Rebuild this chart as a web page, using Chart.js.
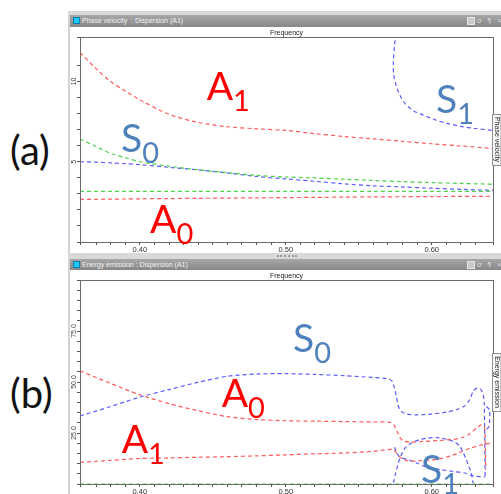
<!DOCTYPE html>
<html>
<head>
<meta charset="utf-8">
<script src="https://cdn.jsdelivr.net/npm/chart.js@4.4.1/dist/chart.umd.min.js"></script>
<style>
  html, body { margin: 0; padding: 0; background: #fff; }
  #page { position: relative; width: 501px; height: 494px; overflow: hidden; background: #fff;
          font-family: "Liberation Sans", Arial, sans-serif; }
  .tag { position: absolute; left: 10px; font-family: Lato, "Open Sans", sans-serif; font-size: 40px;
         line-height: 40px; height: 40px; color: #111; white-space: nowrap; }
  .edge { position: absolute; left: 68px; top: 11px; width: 2px; height: 483px; background: #d2d2d2; }
  .strip { position: absolute; left: 68px; width: 433px; background: #d9d9d9; }
  .bar { position: absolute; left: 70px; width: 431px; background: linear-gradient(#a7a7a7, #878787);
         color: #f2f2f2; font-size: 7px; white-space: nowrap; }
  .bar .ico { position: absolute; left: 3px; width: 5px; height: 5px; background: #1ec8f5;
              border: 1px solid #0d7fae; }
  .bar .ttl { position: absolute; left: 12px; }
  .bar .box { position: absolute; left: 397px; width: 6px; height: 6px; background: #c9c9c9;
              border: 1px solid #e6e6e6; }
  .bar .btns { position: absolute; left: 407px; color: #dcdcdc; font-size: 7px; letter-spacing: 2px; }
  .grip { position: absolute; left: 277px; top: 255px; width: 20px; height: 0;
          border-top: 2px dotted #9c9c9c; }
  canvas { position: absolute; }
</style>
</head>
<body>
<div id="page">
  <div class="tag" style="top:130px;">(a)</div>
  <div class="tag" style="top:373px;">(b)</div>

  <div class="edge"></div>

  <div class="strip" style="top:11px; height:4px;"></div>
  <div class="bar" style="top:15px; height:12px; line-height:12px;">
    <div class="ico" style="top:2px;"></div>
    <div class="ttl">Phase velocity&nbsp; : Dispersion (A1)</div>
    <div class="box" style="top:2px;"></div>
    <div class="btns">ơ ¶ ×</div>
  </div>
  <canvas id="pv" width="431" height="226" style="left:70px; top:27px;"></canvas>

  <div class="strip" style="top:253px; height:6px;"></div>
  <div class="grip"></div>
  <div class="bar" style="top:259px; height:11px; line-height:11px;">
    <div class="ico" style="top:2px;"></div>
    <div class="ttl">Energy emission : Dispersion (A1)</div>
    <div class="box" style="top:2px;"></div>
    <div class="btns">ơ ¶ ×</div>
  </div>
  <canvas id="ee" width="431" height="224" style="left:70px; top:270px;"></canvas>
</div>

<script>
// ---- shared axis ----
const freqMin = 0.359;
const freqMax = 0.642;
const freqTickLabels = ['0.40', '0.50', '0.60'];

// ---- (a) phase velocity ----
const pvTickLabels = ['5', '10'];
const pvFreq = [0.359, 0.37, 0.38, 0.39, 0.40, 0.42, 0.44, 0.46, 0.48, 0.50, 0.52, 0.54, 0.56, 0.58, 0.60, 0.62, 0.642];
const pvA1   = [11.8, 10.8, 10.0, 9.4, 8.86, 7.95, 7.45, 7.18, 7.05, 6.95, 6.75, 6.57, 6.42, 6.27, 6.12, 5.98, 5.83];
const pvS0   = [5.0, 4.97, 4.93, 4.88, 4.82, 4.65, 4.49, 4.3, 4.08, 3.93, 3.78, 3.62, 3.5, 3.43, 3.35, 3.28, 3.22];
const pvAux  = [6.42, 5.95, 5.52, 5.25, 5.0, 4.72, 4.5, 4.32, 4.15, 4.05, 3.99, 3.91, 3.83, 3.76, 3.7, 3.65, 3.6];
const pvSH0  = [3.15, 3.15, 3.15, 3.15, 3.15, 3.15, 3.15, 3.15, 3.15, 3.15, 3.15, 3.15, 3.15, 3.15, 3.15, 3.15, 3.15];
const pvA0   = [2.65, 2.66, 2.67, 2.68, 2.69, 2.705, 2.72, 2.735, 2.75, 2.765, 2.78, 2.795, 2.81, 2.82, 2.83, 2.84, 2.85];
const pvS1Freq = [0.5753, 0.5745, 0.5737, 0.5740, 0.5758, 0.5790, 0.5826, 0.588, 0.594, 0.602, 0.610, 0.620, 0.630, 0.642];
const pvS1     = [13.0, 12.2, 11.2, 10.4, 9.69, 9.0, 8.54, 8.15, 7.92, 7.62, 7.4, 7.2, 7.07, 6.95];

// ---- (b) energy emission ----
const eeTickLabels = ['25.0', '50.0', '75.0'];
const eeFreq = [0.359, 0.37, 0.38, 0.39, 0.40, 0.42, 0.44, 0.46, 0.48, 0.50, 0.52, 0.54, 0.56];
const eeS0   = [33.4, 35.7, 38.0, 40.3, 42.6, 46.3, 49.9, 52.8, 53.9, 54.1, 53.7, 53.1, 52.2];
const eeS0TailFreq = [0.570, 0.573, 0.5745, 0.5758, 0.5770, 0.5790, 0.5830, 0.590, 0.600, 0.610, 0.6175, 0.6226, 0.6260, 0.6285, 0.6310, 0.6335, 0.6352, 0.6360, 0.6363, 0.6366];
const eeS0Tail     = [51.6, 50.3, 46.8, 43.0, 38.5, 35.6, 34.3, 33.9, 34.3, 35.2, 36.6, 38.3, 41.3, 45.6, 47.0, 46.5, 44.0, 39.6, 25.0, 3.8];
const eeA0   = [55.5, 52.2, 49.3, 46.4, 43.7, 39.4, 35.9, 33.0, 31.6, 31.0, 30.8, 30.6, 30.4];
const eeA0TailFreq = [0.572, 0.5745, 0.5765, 0.5785, 0.581, 0.586, 0.595, 0.605, 0.615, 0.621, 0.626, 0.6306, 0.634, 0.636, 0.6366, 0.6368, 0.6370];
const eeA0Tail     = [30.2, 28.5, 25.5, 22.5, 21.0, 20.5, 20.9, 21.3, 21.9, 22.8, 24.5, 27.4, 29.0, 28.0, 24.0, 16.0, 7.0];
const eeA1   = [10.6, 11.1, 11.6, 12.1, 12.5, 12.8, 13.1, 13.4, 13.8, 14.3, 14.8, 15.2, 16.0];
const eeA1TailFreq = [0.5735, 0.5760, 0.5790, 0.5830, 0.590, 0.598, 0.606, 0.613, 0.6192, 0.626, 0.633, 0.642];
const eeA1Tail     = [16.9, 15.0, 12.8, 11.4, 11.3, 11.6, 12.4, 13.8, 15.5, 17.4, 19.0, 20.2];
const eeS1Freq = [0.5738, 0.5752, 0.5768, 0.5782, 0.5800, 0.5820, 0.5861, 0.592, 0.5975, 0.6030, 0.6066, 0.6110, 0.6157, 0.6192, 0.6215, 0.6237, 0.6255, 0.6272, 0.6283];
const eeS1     = [0.5, 5.0, 9.5, 12.5, 15.5, 17.8, 20.1, 21.8, 22.5, 22.8, 22.5, 21.8, 20.6, 18.6, 15.5, 11.9, 8.5, 5.4, 0.5];
const eeS1bFreq = [0.5745, 0.5760, 0.5780, 0.5838, 0.590, 0.5952, 0.601, 0.6066, 0.615, 0.6226, 0.6283, 0.6366];
const eeS1b     = [18.0, 15.5, 13.2, 11.9, 10.2, 8.6, 7.7, 7.0, 6.1, 5.4, 3.9, 3.5];
const eeEdgeFreq = [0.6374, 0.6397, 0.6397, 0.6393, 0.6374];
const eeEdge     = [38.0, 36.4, 31.5, 28.2, 26.6];
const eeSH0Freq = [freqMin, freqMax];
const eeSH0     = [0, 0];

// ---- styling ----
const RED = '#ff5a5a';
const BLUE = '#5c5cff';
const GREEN = '#4cd24c';
const LABEL_RED = '#ff0000';
const LABEL_BLUE = '#4f81bd';

function curve(xs, ys, color, tension) {
  return {
    data: xs.map((x, i) => ({ x: x, y: ys[i] })),
    showLine: true,
    borderColor: color,
    backgroundColor: color,
    borderWidth: 1.2,
    borderDash: [4, 3],
    pointRadius: 0,
    pointHoverRadius: 0,
    tension: tension === undefined ? 0.3 : tension,
    fill: false
  };
}

const tickGrid = {
  display: true, drawOnChartArea: false, drawTicks: true,
  tickLength: 3, tickWidth: 1, color: '#555', tickColor: '#555'
};

function makeScales(yMax, yStep, xAxisHeight) {
  return {
    x: {
      type: 'linear', min: freqMin, max: freqMax,
      afterFit: s => { s.height = xAxisHeight; },
      grid: tickGrid,
      border: { display: false },
      ticks: {
        stepSize: 0.01, autoSkip: false, maxRotation: 0, minRotation: 0, padding: 0,
        color: '#333', font: { family: 'Liberation Sans', size: 7.5 },
        callback: v => { const s = Number(v).toFixed(2); return freqTickLabels.includes(s) ? s : ''; }
      }
    },
    y: {
      type: 'linear', min: 0, max: yMax,
      afterFit: s => { s.width = 10; },
      grid: tickGrid,
      border: { display: false },
      ticks: { stepSize: yStep, display: false }
    }
  };
}

// frame, rotated value labels, axis captions and mode names
const decor = {
  id: 'decor',
  afterDraw(chart, _args, o) {
    const { ctx, chartArea: a } = chart;
    const ys = chart.scales.y;
    ctx.save();

    ctx.strokeStyle = '#6a6a6a';
    ctx.lineWidth = 1;
    ctx.strokeRect(Math.floor(a.left) + 0.5, Math.floor(a.top) + 0.5,
                   Math.round(a.right - a.left), Math.round(a.bottom - a.top));

    ctx.fillStyle = '#3a3a3a';
    ctx.font = '7px "Liberation Sans"';
    ctx.textAlign = 'center';
    ctx.textBaseline = 'middle';
    o.yLabels.forEach(lbl => {
      const y = ys.getPixelForValue(parseFloat(lbl));
      ctx.save();
      ctx.translate(a.left - 5.5, y);
      ctx.rotate(-Math.PI / 2);
      ctx.fillText(lbl, 0, 0);
      ctx.restore();
    });

    ctx.fillStyle = '#222';
    ctx.textBaseline = 'alphabetic';
    ctx.fillText('Frequency', (a.left + a.right) / 2, a.top - 2.5);

    // right-hand caption in a small box
    const midY = (a.top + a.bottom) / 2;
    const tw = ctx.measureText(o.right).width + 6;
    ctx.fillStyle = '#fafafa';
    ctx.fillRect(a.right - 0.5, midY - tw / 2, 8.5, tw);
    ctx.strokeStyle = '#8f8f8f';
    ctx.strokeRect(a.right - 0.5, Math.round(midY - tw / 2) + 0.5, 8.5, Math.round(tw));
    ctx.save();
    ctx.translate(a.right + 4, midY);
    ctx.rotate(Math.PI / 2);
    ctx.fillStyle = '#222';
    ctx.textBaseline = 'middle';
    ctx.fillText(o.right, 0, 0);
    ctx.restore();

    ctx.textAlign = 'left';
    ctx.textBaseline = 'alphabetic';
    o.modes.forEach(m => {
      ctx.fillStyle = m.color;
      ctx.font = '39px Lato';
      ctx.fillText(m.main, m.x, m.y);
      const w = ctx.measureText(m.main).width;
      ctx.font = '29px Lato';
      ctx.fillText(m.sub, m.x + w, m.y + 11);
    });
    ctx.restore();
  }
};

new Chart(document.getElementById('pv'), {
  type: 'scatter',
  data: {
    datasets: [
      curve(pvFreq, pvSH0, GREEN),
      curve(pvFreq, pvAux, GREEN),
      curve(pvFreq, pvA0, RED),
      curve(pvFreq, pvA1, RED),
      curve(pvFreq, pvS0, BLUE),
      curve(pvS1Freq, pvS1, BLUE)
    ]
  },
  options: {
    responsive: false, animation: false, events: [],
    layout: { padding: { left: 0, right: 8, top: 10, bottom: 0 } },
    scales: makeScales(12.77, 1, 11),
    plugins: {
      legend: { display: false }, tooltip: { enabled: false },
      decor: {
        yLabels: pvTickLabels,
        right: 'Phase velocity',
        modes: [
          { main: 'A', sub: '1', color: LABEL_RED, x: 136.7, y: 72.5 },
          { main: 'S', sub: '0', color: LABEL_BLUE, x: 51, y: 125 },
          { main: 'A', sub: '0', color: LABEL_RED, x: 80, y: 205.5 },
          { main: 'S', sub: '1', color: LABEL_BLUE, x: 366, y: 85.5 }
        ]
      }
    }
  },
  plugins: [decor]
});

new Chart(document.getElementById('ee'), {
  type: 'scatter',
  data: {
    datasets: [
      curve(eeSH0Freq, eeSH0, GREEN, 0),
      curve(eeFreq.concat(eeA1TailFreq), eeA1.concat(eeA1Tail), RED, 0.25),
      curve(eeFreq.concat(eeA0TailFreq), eeA0.concat(eeA0Tail), RED, 0.25),
      curve(eeFreq.concat(eeS0TailFreq), eeS0.concat(eeS0Tail), BLUE, 0.25),
      curve(eeS1Freq, eeS1, BLUE, 0.25),
      curve(eeS1bFreq, eeS1b, BLUE, 0.25),
      curve(eeEdgeFreq, eeEdge, BLUE, 0.2)
    ]
  },
  options: {
    responsive: false, animation: false, events: [],
    layout: { padding: { left: 0, right: 8, top: 10, bottom: 0 } },
    scales: makeScales(100, 5, 10),
    plugins: {
      legend: { display: false }, tooltip: { enabled: false },
      decor: {
        yLabels: eeTickLabels,
        right: 'Energy emission',
        modes: [
          { main: 'S', sub: '0', color: LABEL_BLUE, x: 223, y: 81.7 },
          { main: 'A', sub: '0', color: LABEL_RED, x: 151.7, y: 136.7 },
          { main: 'A', sub: '1', color: LABEL_RED, x: 51.7, y: 183.3 },
          { main: 'S', sub: '1', color: LABEL_BLUE, x: 351, y: 213.3 }
        ]
      }
    }
  },
  plugins: [decor]
});
</script>
</body>
</html>
